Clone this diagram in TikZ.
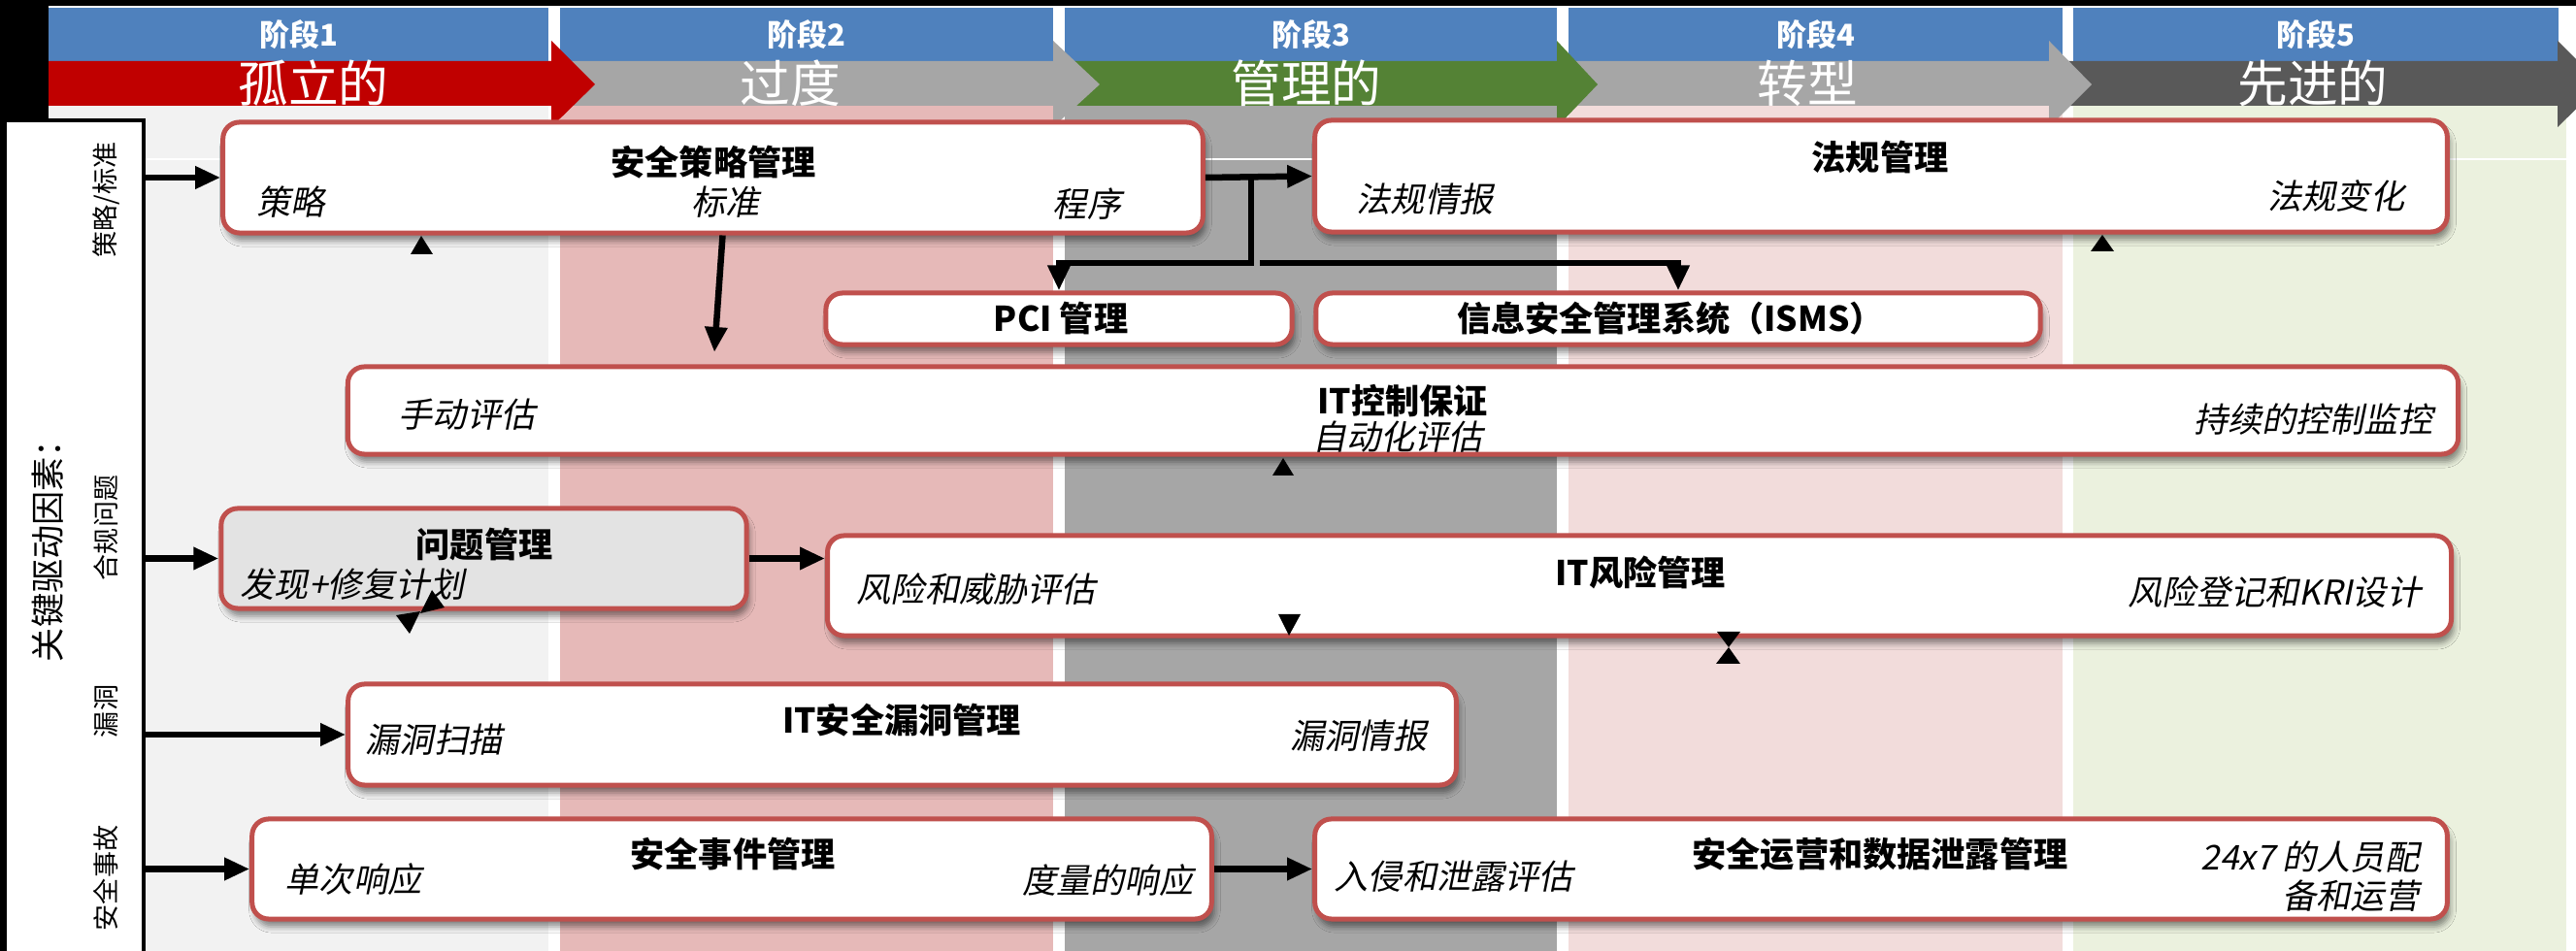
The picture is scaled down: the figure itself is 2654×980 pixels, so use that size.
\documentclass[tikz,border=0pt]{standalone}
\usepackage{fontspec}
\setmainfont{Noto Sans CJK SC}
\newfontfamily\cjkslant[FakeSlant=0.2]{Noto Sans CJK SC}
\usetikzlibrary{arrows.meta,shadows.blur}
\definecolor{hdrblue}{RGB}{79,129,189}
\definecolor{boxred}{RGB}{192,80,77}
\definecolor{bandred}{RGB}{192,0,0}
\definecolor{bandgray}{RGB}{166,166,166}
\definecolor{bandgreen}{RGB}{84,130,53}
\definecolor{banddark}{RGB}{89,89,89}
\definecolor{colA}{RGB}{242,242,242}
\definecolor{colB}{RGB}{230,185,184}
\definecolor{colC}{RGB}{166,166,166}
\definecolor{colD}{RGB}{242,220,219}
\definecolor{colE}{RGB}{235,241,222}
\definecolor{issuegray}{RGB}{227,227,227}
\begin{document}
\begin{tikzpicture}[x=0.01cm, y=-0.01cm, >={Triangle[length=0.26cm,width=0.22cm]}]
        \tikzstyle{hdr}=[fill=hdrblue, text=white, font=\fontsize{8.8}{10}\selectfont\bfseries, minimum height=0.55cm, inner sep=0]
        \tikzstyle{stagename}=[text=white, font=\fontsize{14.7}{16}\selectfont, inner sep=0]
        \tikzstyle{mgmt}=[draw=boxred, line width=0.05cm, fill=white, rounded corners=0.17cm, inner sep=0, blur shadow={shadow xshift=0.03cm, shadow yshift=-0.08cm, shadow blur radius=0.06cm, shadow opacity=45}]
        \tikzstyle{ttl}=[font=\fontsize{10}{12}\selectfont\bfseries, inner sep=0]
        \tikzstyle{itl}=[font=\fontsize{10}{11.4}\selectfont\cjkslant, inner sep=0]
        \tikzstyle{drvtag}=[rotate=90, font=\fontsize{7.7}{9}\selectfont, inner sep=0]
        \tikzstyle{flow}=[line width=0.065cm]

        \useasboundingbox (0,0) rectangle (2654,980);
        \fill[black] (0,0) rectangle (2654,980);
        \fill[white] (50,6) rectangle (2654,980);
        \fill[colA] (50,63) rectangle (565,980);
        \fill[colB] (577,63) rectangle (1085,980);
        \fill[colC] (1097,63) rectangle (1604,980);
        \fill[colD] (1616,63) rectangle (2125,980);
        \fill[colE] (2136,63) rectangle (2644,980);

        \node[hdr, minimum width=5.15cm](h1) at (307.5,35.5){阶段1};
        \node[hdr, minimum width=5.08cm](h2) at (831,35.5){阶段2};
        \node[hdr, minimum width=5.07cm](h3) at (1350.5,35.5){阶段3};
        \node[hdr, minimum width=5.09cm](h4) at (1870.5,35.5){阶段4};
        \node[hdr, minimum width=5.00cm](h5) at (2386,35.5){阶段5};

        \fill[banddark] (2111,63) -- (2635,63) -- (2635,42) -- (2680,87) -- (2635,131) -- (2635,109) -- (2111,109) -- cycle;
        \fill[bandgray] (1604,63) -- (2111,63) -- (2111,42) -- (2155,87) -- (2111,131) -- (2111,109) -- (1604,109) -- cycle;
        \fill[bandgreen] (1085,63) -- (1604,63) -- (1604,42) -- (1646,87) -- (1604,131) -- (1604,109) -- (1085,109) -- cycle;
        \fill[bandgray] (565,63) -- (1085,63) -- (1085,42) -- (1133,87) -- (1085,131) -- (1085,109) -- (565,109) -- cycle;
        \fill[bandred] (50,63) -- (568,63) -- (568,42) -- (613,87) -- (568,131) -- (568,109) -- (50,109) -- cycle;

        \node[stagename](s1) at (323,86){孤立的};
        \node[stagename](s2) at (814,86){过度};
        \node[stagename](s3) at (1346,86){管理的};
        \node[stagename](s4) at (1862,86){转型};
        \node[stagename](s5) at (2383,86){先进的};

        \draw[white, line width=0.025cm] (148,164) -- (2654,164);

        \node[draw=black, fill=white, line width=0.04cm, minimum width=1.43cm, minimum height=8.6cm, inner sep=0](drv) at (76.5,554){};
        \node[rotate=90, font=\fontsize{10}{12}\selectfont, inner sep=0](key) at (49,559){关键驱动因素：};
        \node[drvtag](d1) at (109,206){策略/标准};
        \node[drvtag](d2) at (109,544){合规问题};
        \node[drvtag](d3) at (109,733){漏洞};
        \node[drvtag](d4) at (109,905){安全事故};

        \node[mgmt, minimum width=10.09cm, minimum height=1.14cm](pol) at (734.5,183){};
        \node[mgmt, minimum width=11.66cm, minimum height=1.15cm](reg) at (1938,181.5){};
        \node[mgmt, minimum width=4.80cm, minimum height=0.53cm](pci) at (1091,328.5){};
        \node[mgmt, minimum width=7.46cm, minimum height=0.53cm](isms) at (1729,328.5){};
        \node[mgmt, minimum width=21.73cm, minimum height=0.90cm](itc) at (1445.5,423){};
        \node[mgmt, fill=issuegray, minimum width=5.41cm, minimum height=1.03cm](iss) at (498.5,575.5){};
        \node[mgmt, minimum width=16.72cm, minimum height=1.03cm](risk) at (1689,603.5){};
        \node[mgmt, minimum width=11.41cm, minimum height=1.04cm](vul) at (929.5,757){};
        \node[mgmt, minimum width=9.88cm, minimum height=1.03cm](inc) at (754,895.5){};
        \node[mgmt, minimum width=11.66cm, minimum height=1.03cm](ops) at (1938,895.5){};

        \node[ttl](polT) at (735,167){安全策略管理};
        \node[itl, anchor=west](polA) at (264,208){策略};
        \node[itl, anchor=west](polB) at (712,208){标准};
        \node[itl, anchor=east](polC) at (1156,210){程序};
        \node[ttl](regT) at (1937,162){法规管理};
        \node[itl, anchor=west](regA) at (1397,205){法规情报};
        \node[itl, anchor=east](regB) at (2478,202){法规变化};
        \node[ttl](pciT) at (1093,328){PCI 管理};
        \node[ttl](ismsT) at (1721,328){信息安全管理系统（ISMS）};
        \node[itl, anchor=west](itcA) at (410,427){手动评估};
        \node[ttl](itcT) at (1445,413){IT控制保证};
        \node[itl](itcB) at (1440,450){自动化评估};
        \node[itl, anchor=east](itcC) at (2507,432){持续的控制监控};
        \node[ttl](issT) at (499,561){问题管理};
        \node[itl, anchor=west](issA) at (247,602){发现+修复计划};
        \node[ttl](riskT) at (1690,590){IT风险管理};
        \node[itl, anchor=west](riskA) at (882,607){风险和威胁评估};
        \node[itl, anchor=east](riskB) at (2495,610){风险登记和KRI设计};
        \node[ttl](vulT) at (929,742){IT安全漏洞管理};
        \node[itl, anchor=west](vulA) at (376,762){漏洞扫描};
        \node[itl, anchor=east](vulB) at (1471,758){漏洞情报};
        \node[ttl](incT) at (755,880){安全事件管理};
        \node[itl, anchor=west](incA) at (293,906){单次响应};
        \node[itl, anchor=east](incB) at (1230,907){度量的响应};
        \node[ttl](opsT) at (1937,880){安全运营和数据泄露管理};
        \node[itl, anchor=west](opsA) at (1374,903){入侵和泄露评估};
        \node[itl, anchor=east, align=right](opsB) at (2493,903){24x7 的人员配\\备和运营};

        \coordinate (split) at (1289,183);
        \coordinate (bend) at (1289,271);
        \coordinate (fork) at (1298,271);
        \coordinate (itcin) at (736,363);

        \draw[->, flow] (drv.east |- pol.west) -- (pol.west);
        \draw[->, flow] (drv.east |- iss.west) -- (iss.west);
        \draw[->, flow] (drv.east |- vul.west) -- (vul.west);
        \draw[->, flow] (drv.east |- inc.west) -- (inc.west);
        \draw[->, flow] (pol.east) -- (reg.west);
        \draw[->, flow] (split) -- (bend) -| (pci.north);
        \draw[->, flow] (fork) -| (isms.north);
        \draw[->, flow] ([xshift=0.1cm]pol.south) -- (itcin);
        \draw[->, flow] (iss.east) -- (iss.east -| risk.west);
        \draw[->, flow] (inc.east) -- (ops.west);

        \fill (434,243) -- (423,262) -- (446,262) -- cycle;
        \fill (2166,242) -- (2154,259) -- (2178,259) -- cycle;
        \fill (1322,472) -- (1311,490) -- (1333,490) -- cycle;
        \fill (1317,633) -- (1340,633) -- (1328,655) -- cycle;
        \fill (1769,651) -- (1793,651) -- (1781,667) -- cycle;
        \fill (1781,667) -- (1768,684) -- (1793,684) -- cycle;
        \fill (445,608) -- (458,626) -- (433,632) -- cycle;
        \fill (433,630) -- (408,634) -- (422,653) -- cycle;
\end{tikzpicture}
\end{document}
